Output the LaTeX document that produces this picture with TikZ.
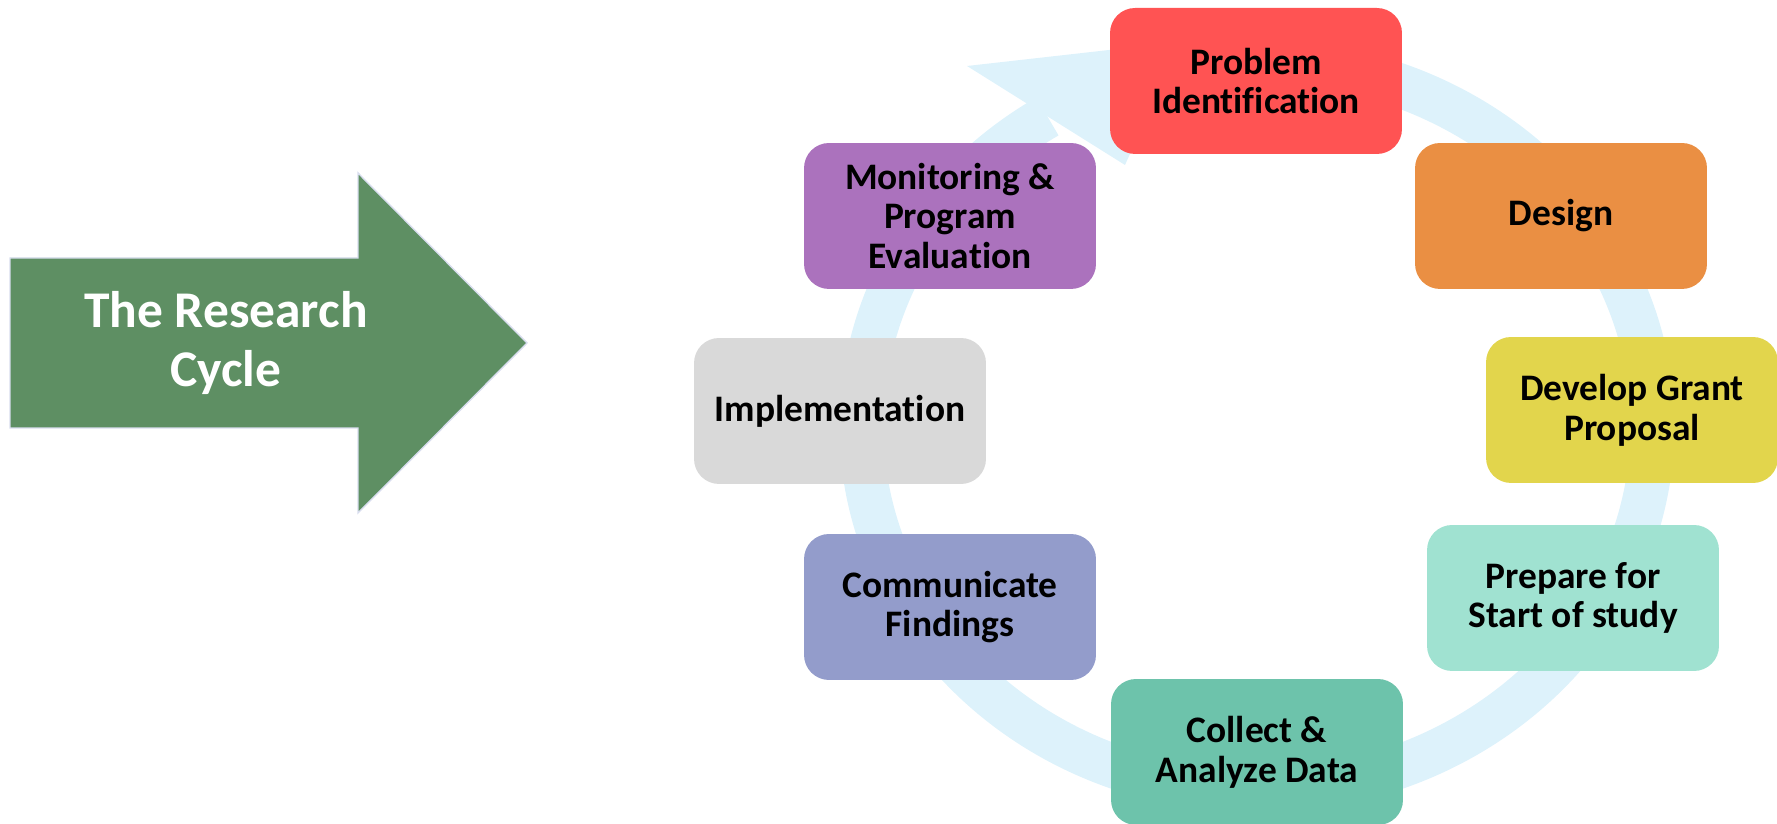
\documentclass[tikz,border=0pt]{standalone}
\usepackage{fontspec}
\setmainfont{Carlito}[Ligatures=CommonOff]
\usepackage{tikz}
\definecolor{RingBlue}{HTML}{DDF2FB}
\definecolor{ArrowGreen}{HTML}{5E8F63}
\definecolor{ArrowEdge}{HTML}{D8DDEE}
\definecolor{ProblemRed}{HTML}{FF5353}
\definecolor{DesignOrange}{HTML}{EA8F43}
\definecolor{GrantYellow}{HTML}{E2D54C}
\definecolor{PrepareMint}{HTML}{A0E2D1}
\definecolor{CollectTeal}{HTML}{6DC3AB}
\definecolor{FindingsBlue}{HTML}{939CCB}
\definecolor{ImplGray}{HTML}{D9D9D9}
\definecolor{MonitorPurple}{HTML}{AB72BD}
\tikzset{
  stage/.style={rounded corners=0.5cm, minimum width=5.84cm, minimum height=2.92cm,
    inner sep=0pt, align=center, text=black,
    font=\bfseries\fontsize{21.3}{22.6}\selectfont},
}

\begin{document}
\begin{tikzpicture}[x=0.02cm, y=0.02cm]
\useasboundingbox (0,0) rectangle (1777,824);

% the cycle ring with its head
\coordinate (ctr) at (1257,398);
\draw[color=RingBlue, line width=0.88cm] ([shift={(80:395.5 and 365)}]ctr) arc[start angle=80, end angle=-238, x radius=395.5, y radius=365];
\fill[RingBlue] (967,758) -- (1180,782) -- (1125,659) -- cycle;

% big arrow on the left
\draw[fill=ArrowGreen, draw=ArrowEdge, line width=0.8pt] (10,396) -- (10,566) -- (358,566) -- (358,651) -- (527,481) -- (358,311) -- (358,396) -- cycle;
\node[text=white, align=center, font=\bfseries\fontsize{29.3}{34}\selectfont] (title) at (226,481) {The Research\\Cycle};

% stages
\node[stage, fill=ProblemRed] (problem) at (1256,743) {Problem\\Identification};
\node[stage, fill=DesignOrange] (design) at (1561,608) {Design};
\node[stage, fill=GrantYellow] (grant) at (1632,414) {Develop Grant\\Proposal};
\node[stage, fill=PrepareMint] (prepare) at (1573,226) {Prepare for\\Start of study};
\node[stage, fill=CollectTeal] (collect) at (1257,72) {Collect \&\\Analyze Data};
\node[stage, fill=FindingsBlue] (findings) at (950,217) {Communicate\\Findings};
\node[stage, fill=ImplGray] (impl) at (840,413) {Implementation};
\node[stage, fill=MonitorPurple] (monitor) at (950,608) {Monitoring \&\\Program\\Evaluation};
\end{tikzpicture}
\end{document}
